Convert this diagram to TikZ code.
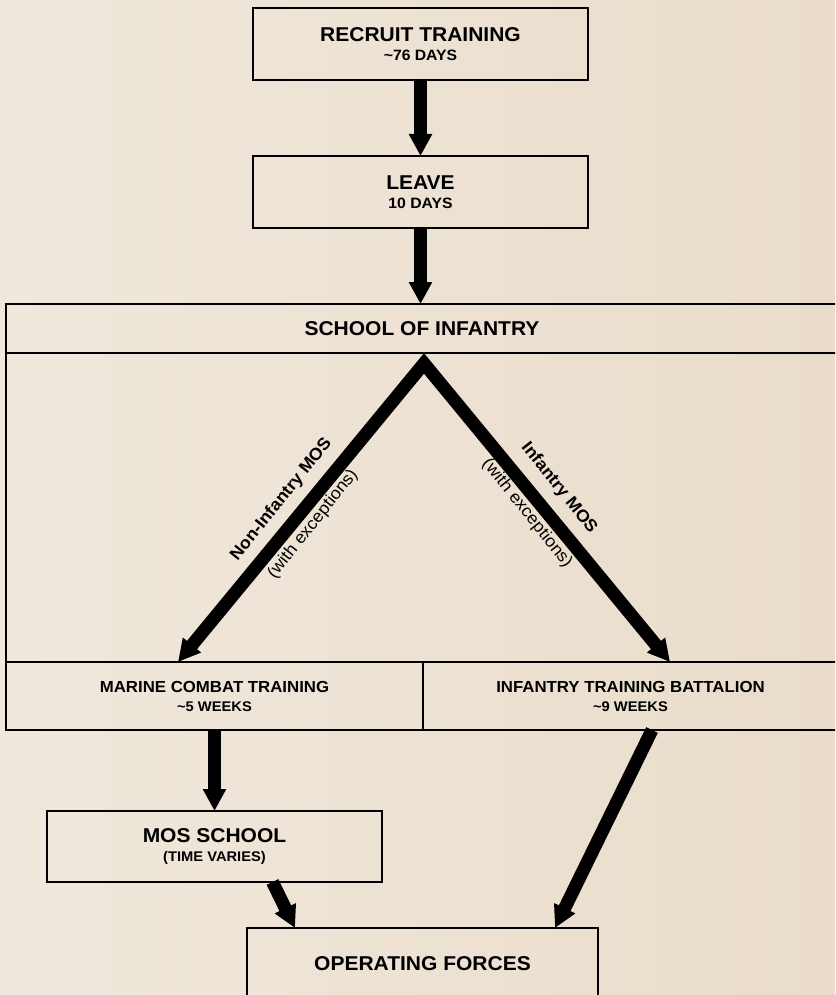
\documentclass[tikz,border=0pt]{standalone}
\usepackage{fontspec}
\setmainfont{Liberation Sans}[FakeStretch=1.05]
\usetikzlibrary{arrows.meta,calc}
\definecolor{bgL}{HTML}{F0E8DD}
\definecolor{bgR}{HTML}{E9DCCA}
\newcommand\ttltxt[1]{{\fontsize{20}{19}\selectfont\bfseries #1}}
\newcommand\midtxt[1]{{\fontsize{16}{19}\selectfont\bfseries #1}}
\newcommand\subtxt[1]{{\fontsize{15}{19}\selectfont\bfseries #1}}
\newcommand\smltxt[1]{{\fontsize{14}{19}\selectfont\bfseries #1}}
\begin{document}
\begin{tikzpicture}[x=1pt,y=-1pt,
  box/.style={draw=black,line width=2pt,inner sep=0pt,outer sep=0pt,align=center,
    font=\fontsize{15}{19}\selectfont},
  bigarrow/.style={line width=13pt,-{Triangle[width=22pt,length=22pt]}},
  lbl/.style={inner sep=0pt,font=\fontsize{17}{19}\selectfont}]
\clip (0,0) rectangle (835,995);
\shade[left color=bgL,right color=bgR] (0,0) rectangle (835,995);

\node[box,minimum width=335pt,minimum height=72pt] (rt) at (420.5,44)
  {\ttltxt{RECRUIT TRAINING}\\\subtxt{\textasciitilde76 DAYS}};
\node[box,minimum width=335pt,minimum height=72pt] (lv) at (420.5,192)
  {\ttltxt{LEAVE}\\\subtxt{10 DAYS}};
\node[box,minimum width=832pt,minimum height=49pt] (soi) at (422,328.5)
  {\ttltxt{SCHOOL OF INFANTRY}};
\node[box,minimum width=417pt,minimum height=68pt] (mct) at (214.5,696)
  {\midtxt{MARINE COMBAT TRAINING}\\\smltxt{\textasciitilde5 WEEKS}};
\node[box,minimum width=415pt,minimum height=68pt] (itb) at (630.5,696)
  {\midtxt{INFANTRY TRAINING BATTALION}\\\smltxt{\textasciitilde9 WEEKS}};
\node[box,minimum width=335pt,minimum height=71pt] (mos) at (214.5,846.5)
  {\ttltxt{MOS SCHOOL}\\\smltxt{(TIME VARIES)}};
\node[box,minimum width=351pt,minimum height=72pt] (of) at (422.5,964)
  {\ttltxt{OPERATING FORCES}};

\draw[line width=2pt] (soi.south west) -- (mct.north west);
\draw[line width=2pt] (soi.south east) -- (itb.north east);

\coordinate (mctin) at (178,662);
\coordinate (itbin) at (670,662);
\coordinate (apex) at ($(soi.south)+(2,10.4)$);

\draw[bigarrow] (rt.south) -- (lv.north);
\draw[bigarrow] (lv.south) -- (lv.south |- soi.north);
\draw[line width=13pt,line join=miter,{Triangle[width=22pt,length=22pt]}-{Triangle[width=22pt,length=22pt]}]
  (mctin) -- (apex) -- (itbin);
\draw[bigarrow] (mct.south) -- (mos.north);
\draw[bigarrow] ($(mos.south)+(58,0)$) -- ($(of.north)+(-127.5,0)$);
\draw[bigarrow] ($(itb.south)+(21.5,0)$) -- ($(of.north)+(132.5,0)$);

\node[lbl,rotate=51.5] (l1) at (281.5,499.5) {\bfseries Non-Infantry MOS};
\node[lbl,rotate=51.5] (l2) at (313,524) {(with exceptions)};
\node[lbl,rotate=-51.5] (l3) at (559,488) {\bfseries Infantry MOS};
\node[lbl,rotate=-51.5] (l4) at (527,513.5) {(with exceptions)};
\end{tikzpicture}
\end{document}
